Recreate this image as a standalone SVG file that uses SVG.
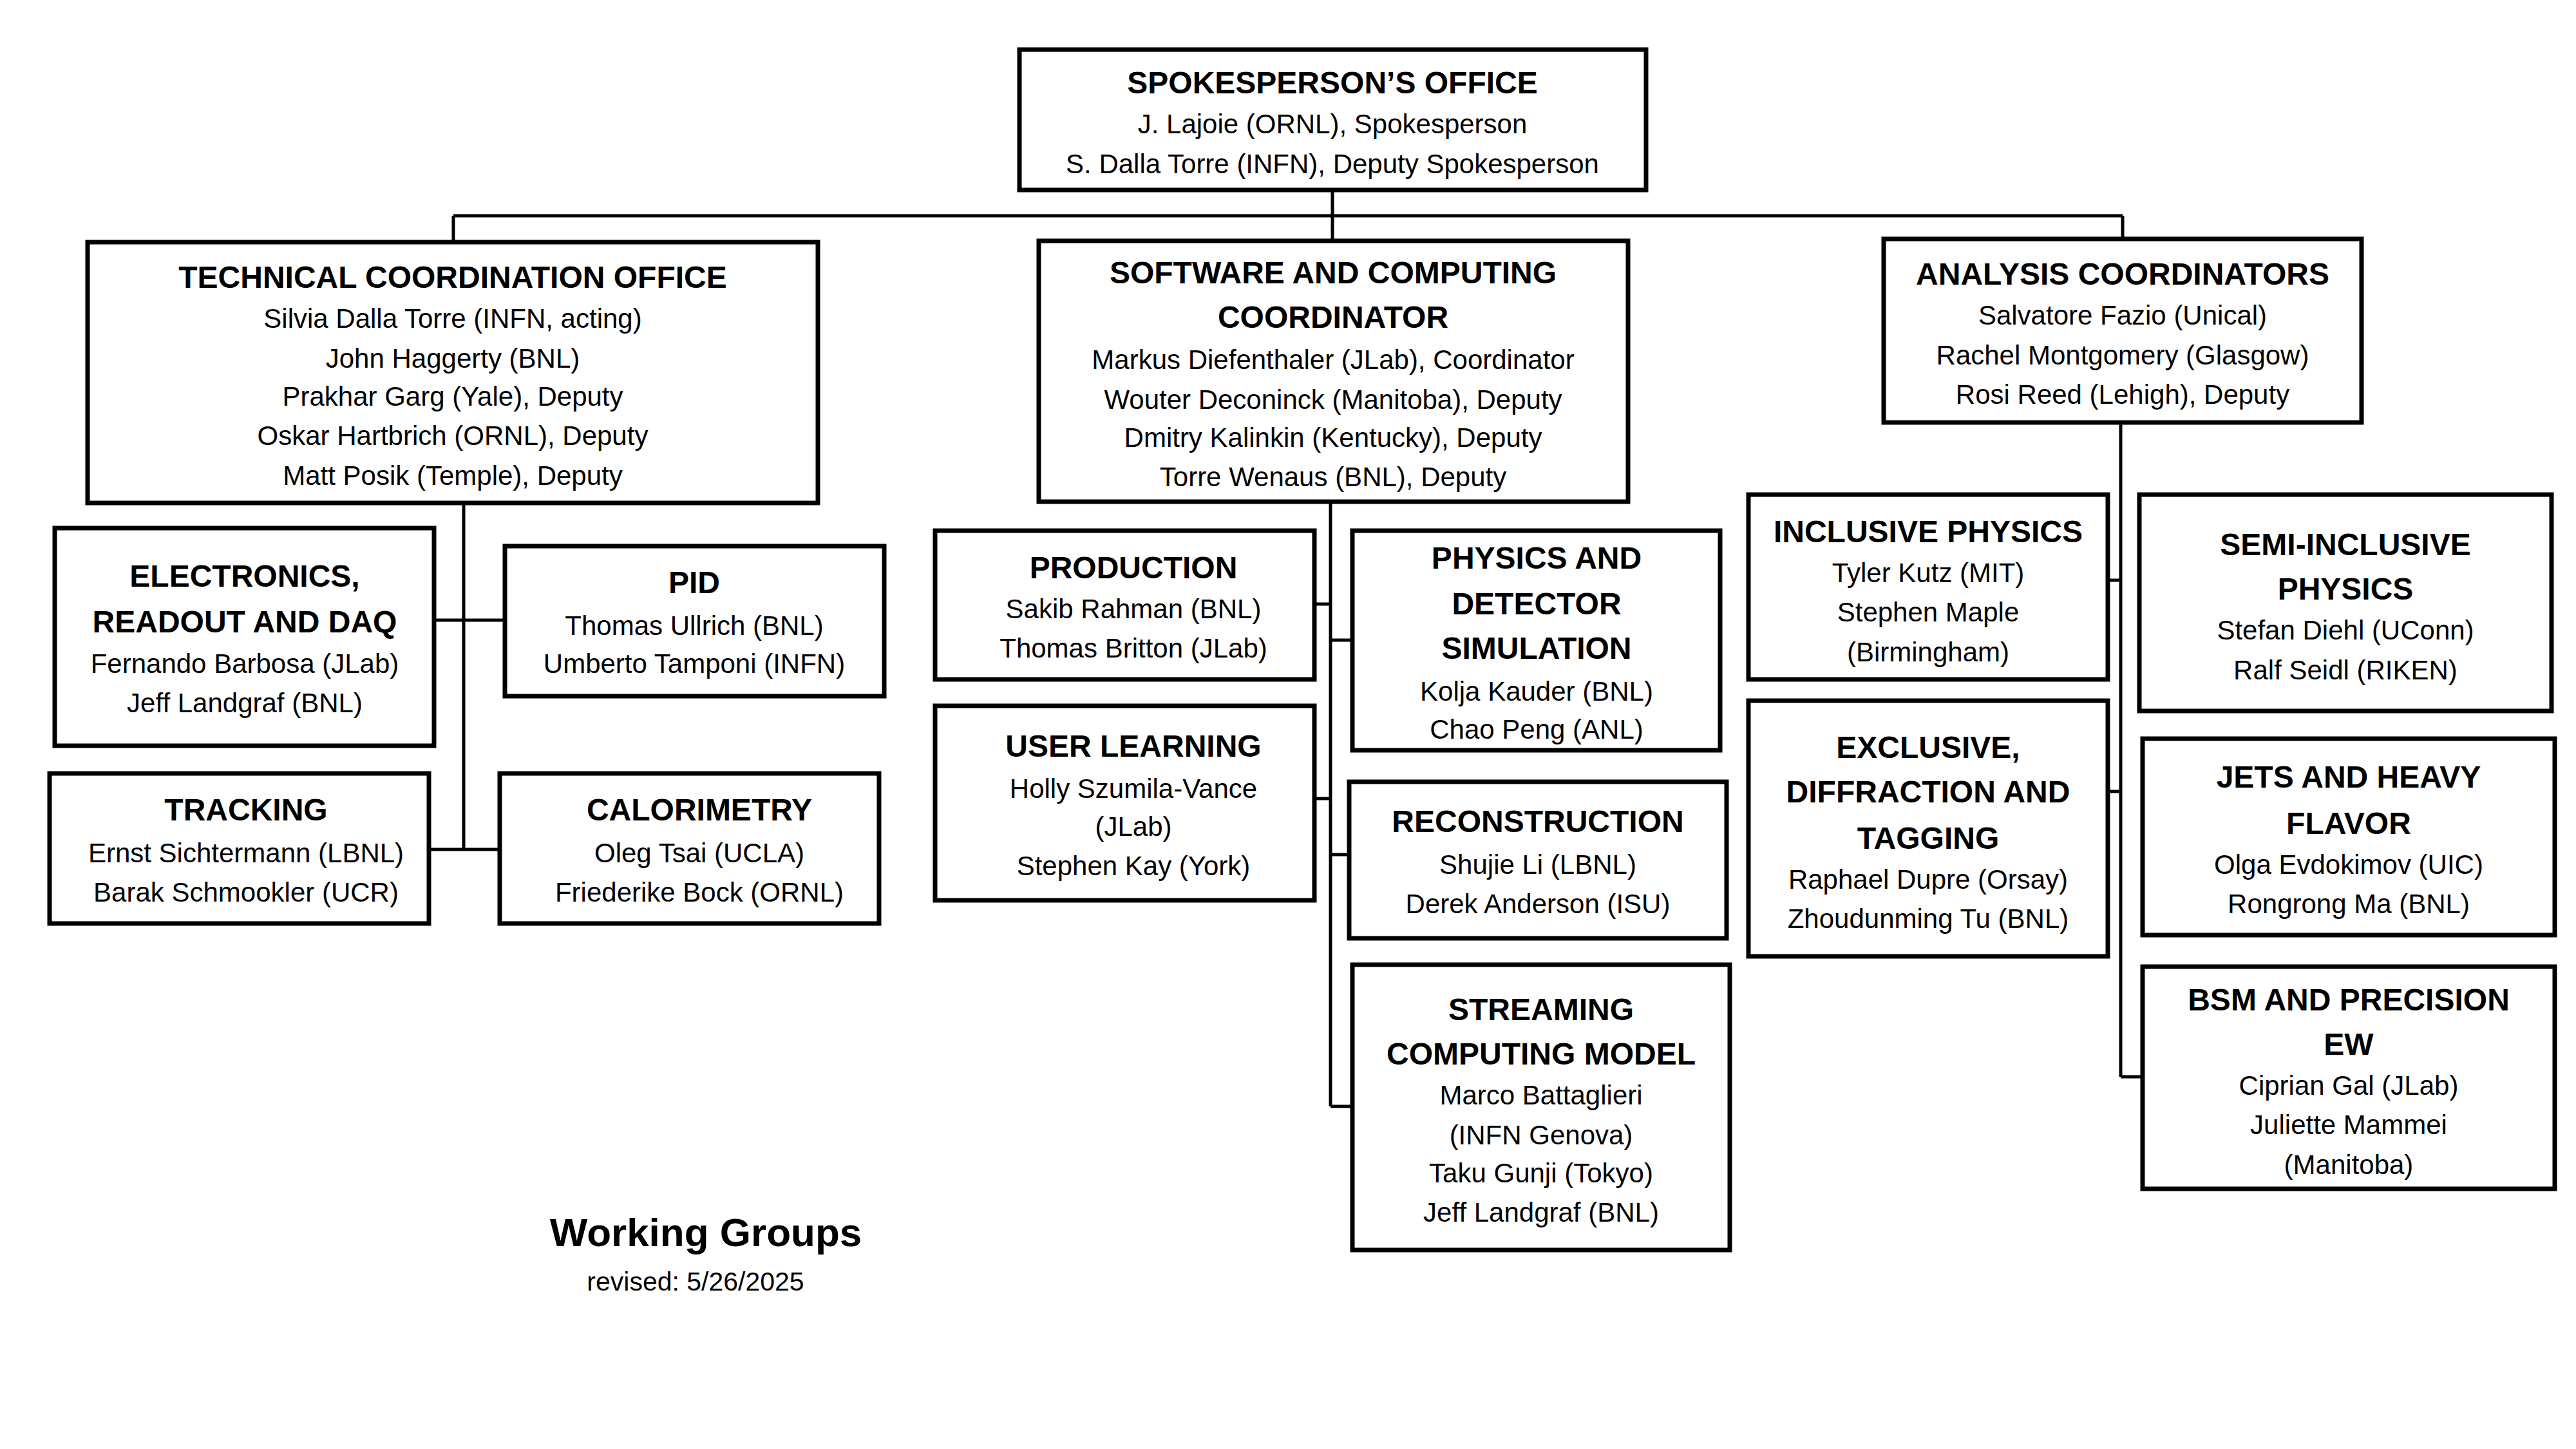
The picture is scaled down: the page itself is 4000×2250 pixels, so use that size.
<svg xmlns="http://www.w3.org/2000/svg" width="4000" height="2250" viewBox="0 0 4000 2250">
<style>
rect{fill:#fff;stroke:#000;stroke-width:7}
text{font-family:"Liberation Sans",Arial,sans-serif;text-anchor:middle;dominant-baseline:central;fill:#000}
.t{font-weight:bold;font-size:48px}
.b{font-size:42px}
#conn line{stroke:#000;stroke-width:5}
</style>
<rect x="0" y="0" width="4000" height="2250" style="stroke:none"/>
<g id="conn">
<line x1="2069" y1="295" x2="2069" y2="376"/>
<line x1="704" y1="335" x2="3296" y2="335"/>
<line x1="704" y1="335" x2="704" y2="376"/>
<line x1="3296" y1="335" x2="3296" y2="371"/>
<line x1="720" y1="781" x2="720" y2="1319"/>
<line x1="674" y1="963" x2="784" y2="963"/>
<line x1="666" y1="1319" x2="776" y2="1319"/>
<line x1="2066" y1="779" x2="2066" y2="1718"/>
<line x1="2041" y1="938" x2="2066" y2="938"/>
<line x1="2066" y1="994" x2="2100" y2="994"/>
<line x1="2041" y1="1240" x2="2066" y2="1240"/>
<line x1="2066" y1="1327" x2="2095" y2="1327"/>
<line x1="2066" y1="1718" x2="2100" y2="1718"/>
<line x1="3293" y1="656" x2="3293" y2="1672"/>
<line x1="3273" y1="901" x2="3293" y2="901"/>
<line x1="3273" y1="1229" x2="3293" y2="1229"/>
<line x1="3293" y1="1672" x2="3327" y2="1672"/>
</g>
<g id="spokesperson">
<rect x="1583" y="77" width="973" height="218"/>
<text class="t" x="2069" y="128">SPOKESPERSON’S OFFICE</text>
<text class="b" x="2069" y="192">J. Lajoie (ORNL), Spokesperson</text>
<text class="b" x="2069" y="254">S. Dalla Torre (INFN), Deputy Spokesperson</text>
</g>
<g id="tco">
<rect x="136" y="376" width="1134" height="405"/>
<text class="t" x="703" y="430">TECHNICAL COORDINATION OFFICE</text>
<text class="b" x="703" y="494">Silvia Dalla Torre (INFN, acting)</text>
<text class="b" x="703" y="556">John Haggerty (BNL)</text>
<text class="b" x="703" y="615">Prakhar Garg (Yale), Deputy</text>
<text class="b" x="703" y="676">Oskar Hartbrich (ORNL), Deputy</text>
<text class="b" x="703" y="738">Matt Posik (Temple), Deputy</text>
</g>
<g id="software">
<rect x="1613" y="374" width="915" height="405"/>
<text class="t" x="2070" y="423">SOFTWARE AND COMPUTING</text>
<text class="t" x="2070" y="492">COORDINATOR</text>
<text class="b" x="2070" y="558">Markus Diefenthaler (JLab), Coordinator</text>
<text class="b" x="2070" y="620">Wouter Deconinck (Manitoba), Deputy</text>
<text class="b" x="2070" y="679">Dmitry Kalinkin (Kentucky), Deputy</text>
<text class="b" x="2070" y="740">Torre Wenaus (BNL), Deputy</text>
</g>
<g id="analysis">
<rect x="2925" y="371" width="742" height="285"/>
<text class="t" x="3296" y="425">ANALYSIS COORDINATORS</text>
<text class="b" x="3296" y="489">Salvatore Fazio (Unical)</text>
<text class="b" x="3296" y="551">Rachel Montgomery (Glasgow)</text>
<text class="b" x="3296" y="612">Rosi Reed (Lehigh), Deputy</text>
</g>
<g id="electronics">
<rect x="85" y="820" width="589" height="338"/>
<text class="t" x="380" y="894">ELECTRONICS,</text>
<text class="t" x="380" y="965">READOUT AND DAQ</text>
<text class="b" x="380" y="1030">Fernando Barbosa (JLab)</text>
<text class="b" x="380" y="1091">Jeff Landgraf (BNL)</text>
</g>
<g id="pid">
<rect x="784" y="848" width="589" height="233"/>
<text class="t" x="1078" y="904">PID</text>
<text class="b" x="1078" y="971">Thomas Ullrich (BNL)</text>
<text class="b" x="1078" y="1030">Umberto Tamponi (INFN)</text>
</g>
<g id="tracking">
<rect x="77" y="1201" width="589" height="233"/>
<text class="t" x="382" y="1257">TRACKING</text>
<text class="b" x="382" y="1324">Ernst Sichtermann (LBNL)</text>
<text class="b" x="382" y="1385">Barak Schmookler (UCR)</text>
</g>
<g id="calorimetry">
<rect x="776" y="1201" width="589" height="233"/>
<text class="t" x="1086" y="1257">CALORIMETRY</text>
<text class="b" x="1086" y="1324">Oleg Tsai (UCLA)</text>
<text class="b" x="1086" y="1385">Friederike Bock (ORNL)</text>
</g>
<g id="production">
<rect x="1452" y="824" width="589" height="231"/>
<text class="t" x="1760" y="881">PRODUCTION</text>
<text class="b" x="1760" y="945">Sakib Rahman (BNL)</text>
<text class="b" x="1760" y="1006">Thomas Britton (JLab)</text>
</g>
<g id="userlearning">
<rect x="1452" y="1096" width="589" height="302"/>
<text class="t" x="1760" y="1158">USER LEARNING</text>
<text class="b" x="1760" y="1224">Holly Szumila-Vance</text>
<text class="b" x="1760" y="1283">(JLab)</text>
<text class="b" x="1760" y="1344">Stephen Kay (York)</text>
</g>
<g id="physics">
<rect x="2100" y="824" width="571" height="341"/>
<text class="t" x="2386" y="866">PHYSICS AND</text>
<text class="t" x="2386" y="937">DETECTOR</text>
<text class="t" x="2386" y="1006">SIMULATION</text>
<text class="b" x="2386" y="1073">Kolja Kauder (BNL)</text>
<text class="b" x="2386" y="1132">Chao Peng (ANL)</text>
</g>
<g id="reconstruction">
<rect x="2095" y="1214" width="586" height="243"/>
<text class="t" x="2388" y="1275">RECONSTRUCTION</text>
<text class="b" x="2388" y="1342">Shujie Li (LBNL)</text>
<text class="b" x="2388" y="1403">Derek Anderson (ISU)</text>
</g>
<g id="streaming">
<rect x="2100" y="1498" width="586" height="443"/>
<text class="t" x="2393" y="1567">STREAMING</text>
<text class="t" x="2393" y="1636">COMPUTING MODEL</text>
<text class="b" x="2393" y="1700">Marco Battaglieri</text>
<text class="b" x="2393" y="1762">(INFN Genova)</text>
<text class="b" x="2393" y="1821">Taku Gunji (Tokyo)</text>
<text class="b" x="2393" y="1882">Jeff Landgraf (BNL)</text>
</g>
<g id="inclusive">
<rect x="2715" y="768" width="558" height="287"/>
<text class="t" x="2994" y="825">INCLUSIVE PHYSICS</text>
<text class="b" x="2994" y="889">Tyler Kutz (MIT)</text>
<text class="b" x="2994" y="950">Stephen Maple</text>
<text class="b" x="2994" y="1012">(Birmingham)</text>
</g>
<g id="exclusive">
<rect x="2715" y="1088" width="558" height="397"/>
<text class="t" x="2994" y="1160">EXCLUSIVE,</text>
<text class="t" x="2994" y="1229">DIFFRACTION AND</text>
<text class="t" x="2994" y="1301">TAGGING</text>
<text class="b" x="2994" y="1365">Raphael Dupre (Orsay)</text>
<text class="b" x="2994" y="1426">Zhoudunming Tu (BNL)</text>
</g>
<g id="semiinclusive">
<rect x="3322" y="768" width="640" height="336"/>
<text class="t" x="3642" y="845">SEMI-INCLUSIVE</text>
<text class="t" x="3642" y="914">PHYSICS</text>
<text class="b" x="3642" y="978">Stefan Diehl (UConn)</text>
<text class="b" x="3642" y="1040">Ralf Seidl (RIKEN)</text>
</g>
<g id="jets">
<rect x="3327" y="1147" width="640" height="305"/>
<text class="t" x="3647" y="1206">JETS AND HEAVY</text>
<text class="t" x="3647" y="1278">FLAVOR</text>
<text class="b" x="3647" y="1342">Olga Evdokimov (UIC)</text>
<text class="b" x="3647" y="1403">Rongrong Ma (BNL)</text>
</g>
<g id="bsm">
<rect x="3327" y="1501" width="640" height="345"/>
<text class="t" x="3647" y="1552">BSM AND PRECISION</text>
<text class="t" x="3647" y="1621">EW</text>
<text class="b" x="3647" y="1685">Ciprian Gal (JLab)</text>
<text class="b" x="3647" y="1746">Juliette Mammei</text>
<text class="b" x="3647" y="1808">(Manitoba)</text>
</g>
<g id="caption">
<text x="1096" y="1913" style="font-weight:bold;font-size:62px">Working Groups</text>
<text x="1080" y="1990" style="font-size:41px">revised: 5/26/2025</text>
</g>
</svg>
